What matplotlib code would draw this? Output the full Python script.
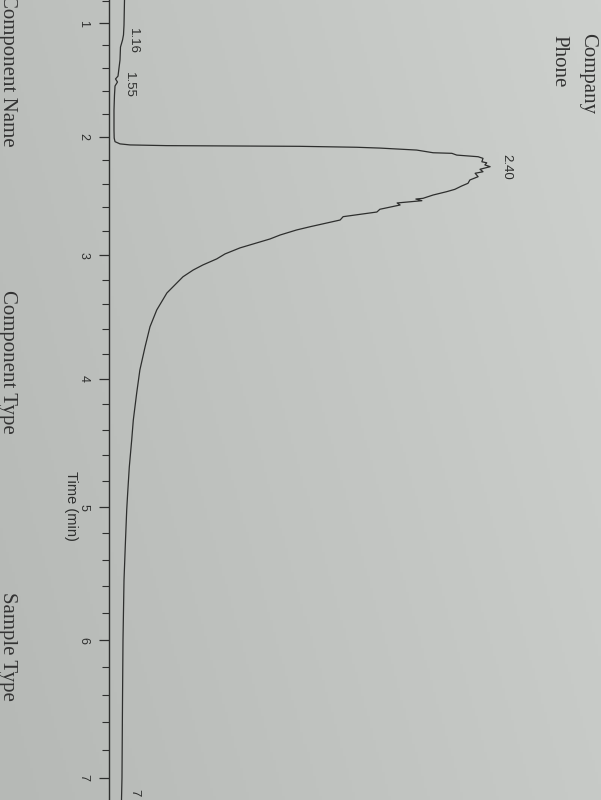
import numpy as np
import matplotlib
matplotlib.use("Agg")
import matplotlib.pyplot as plt
from matplotlib.ticker import MultipleLocator, FixedLocator
from matplotlib.colors import LinearSegmentedColormap

# ---------------- data ----------------
time_min = [0.792, 1.017, 1.106, 1.152, 1.214, 1.329, 1.400, 1.471, 1.496, 1.523,
            1.558, 1.637, 1.767, 1.942, 2.010, 2.041, 2.060, 2.069, 2.075, 2.078,
            2.081, 2.089, 2.096, 2.113, 2.136, 2.141, 2.156, 2.170, 2.184, 2.213,
            2.222, 2.240, 2.255, 2.277, 2.298, 2.311, 2.340, 2.368, 2.396, 2.419,
            2.447, 2.467, 2.495, 2.523, 2.529, 2.543, 2.562, 2.579, 2.615, 2.638,
            2.677, 2.705, 2.761, 2.788, 2.830, 2.863, 2.937, 2.987, 3.028, 3.078,
            3.120, 3.175, 3.308, 3.446, 3.582, 3.742, 3.929, 4.112, 4.325, 4.481,
            4.691, 4.891, 5.021, 5.251, 5.553, 6.000, 6.439, 7.000, 7.156]
signal = [2.80, 2.67, 2.53, 2.27, 1.73, 1.60, 1.33, 1.07, 0.40, 0.93,
          0.27, 0.13, 0.00, 0.00, 0.05, 0.27, 1.60, 4.27, 14.0, 31.7,
          49.6, 64.7, 70.9, 80.7, 85.1, 90.1, 91.4, 97.1, 98.4, 98.1,
          99.4, 98.9, 100.3, 97.6, 98.4, 96.3, 97.1, 94.9, 94.4, 92.7,
          90.9, 88.7, 85.1, 82.4, 80.5, 82.1, 75.5, 76.3, 70.9, 70.1,
          61.1, 60.3, 52.3, 48.7, 44.3, 41.6, 33.6, 29.6, 27.4, 23.7,
          21.1, 18.4, 14.1, 11.4, 9.6, 8.3, 6.9, 6.05, 5.15, 4.72,
          4.08, 3.65, 3.39, 3.07, 2.67, 2.40, 2.27, 2.13, 2.00]

peak_labels = ["1.16", "1.55", "2.40"]
end_label = "7"
time_ticks = [1, 2, 3, 4, 5, 6, 7]
axis_title = "Time (min)"
header_lines = ["Company", "Phone"]
footer_fields = ["Component Name", "Component Type", "Sample Type"]

# ---------------- figure ----------------
W, H = 601, 800
fig = plt.figure(figsize=(W / 100, H / 100), dpi=100)

# paper background (photo of a sheet)
bg = fig.add_axes([0, 0, 1, 1], zorder=-10)
gx = np.linspace(0, 1, 200)
gy = np.linspace(0, 1, 200)
GX, GY = np.meshgrid(gx, gy)
shade = 0.55 * GX + 0.2 * (1 - GY)
cmap = LinearSegmentedColormap.from_list("paper", ["#b6b9b6", "#cdd0cd"])
bg.imshow(shade, cmap=cmap, aspect="auto", extent=[0, 1, 0, 1], origin="upper",
          vmin=0, vmax=0.75)
bg.set_axis_off()

# perspective of the photographed page along the time axis
A, B, Y4 = 125.8, 2.4, 378.9


def fwd(t):
    u = np.asarray(t, float) - 4.0
    return A * u + B * u * u


def inv(z):
    z = np.asarray(z, float)
    return 4.0 + (np.sqrt(np.maximum(A * A + 4 * B * z, 0.0)) - A) / (2 * B)


ax_left = 109
ax = fig.add_axes([ax_left / W, 0, 1 - ax_left / W, 1])
ax.set_facecolor("none")
ax.set_yscale("function", functions=(fwd, inv))
t_top = float(inv(0 - Y4))
t_bot = float(inv(H - Y4))
ax.set_ylim(t_bot, t_top)
px_per_unit = 3.75
x0 = 114
ax.set_xlim((ax_left - x0) / px_per_unit, (W - x0) / px_per_unit)

ink = "#2e2f2e"
ax.plot(signal, time_min, color=ink, lw=0.9, solid_joinstyle="round")

for s in ["top", "right", "bottom"]:
    ax.spines[s].set_visible(False)
ax.spines["left"].set_color(ink)
ax.spines["left"].set_linewidth(1.0)
ax.set_xticks([])
ax.yaxis.set_major_locator(FixedLocator(time_ticks))
ax.yaxis.set_minor_locator(MultipleLocator(0.2))
ax.set_yticklabels([str(v) for v in time_ticks])
ax.tick_params(axis="y", which="major", length=7, width=0.9, color=ink,
               pad=7, labelsize=9, labelcolor=ink)
ax.tick_params(axis="y", which="minor", length=5, width=0.8, color=ink)
for lab in ax.get_yticklabels():
    lab.set_rotation(-90)
    lab.set_va("center")
    lab.set_ha("right")
    lab.set_fontfamily("Liberation Sans")

# peak retention-time labels
ts = np.array(time_min)
sg = np.array(signal)
apex_t = ts[np.argmax(sg)]
label_pos = [(float(peak_labels[0]), 3.5), (float(peak_labels[1]), 2.4),
             (apex_t, 103.0)]
for txt, (tt, ss) in zip(peak_labels, label_pos):
    ax.text(ss, tt, txt, rotation=-90, ha="left", va="center", fontsize=9.5,
            color=ink, family="Liberation Sans")
ax.text(3.7, 7.08, end_label, rotation=-90, ha="left", va="top", fontsize=9.5,
        color=ink, family="Liberation Sans")

# axis title
fig.text(71 / W, 1 - 506 / H, axis_title, rotation=-90, ha="center", va="center",
         fontsize=10.5, color=ink, family="Liberation Sans")

# header / footer of the report page
serif = "Liberation Serif"
fig.text(597 / W, 1 - 33 / H, header_lines[0], rotation=-90, ha="right", va="top",
         fontsize=15, color="#333333", family=serif)
fig.text(568 / W, 1 - 35 / H, header_lines[1], rotation=-90, ha="right", va="top",
         fontsize=15, color="#333333", family=serif)
footer_y = [-6, 290, 592]
for txt, yy in zip(footer_fields, footer_y):
    fig.text(17 / W, 1 - yy / H, txt, rotation=-90, ha="right", va="top",
             fontsize=15, color="#333333", family=serif)

fig.savefig("out.png", dpi=100)
